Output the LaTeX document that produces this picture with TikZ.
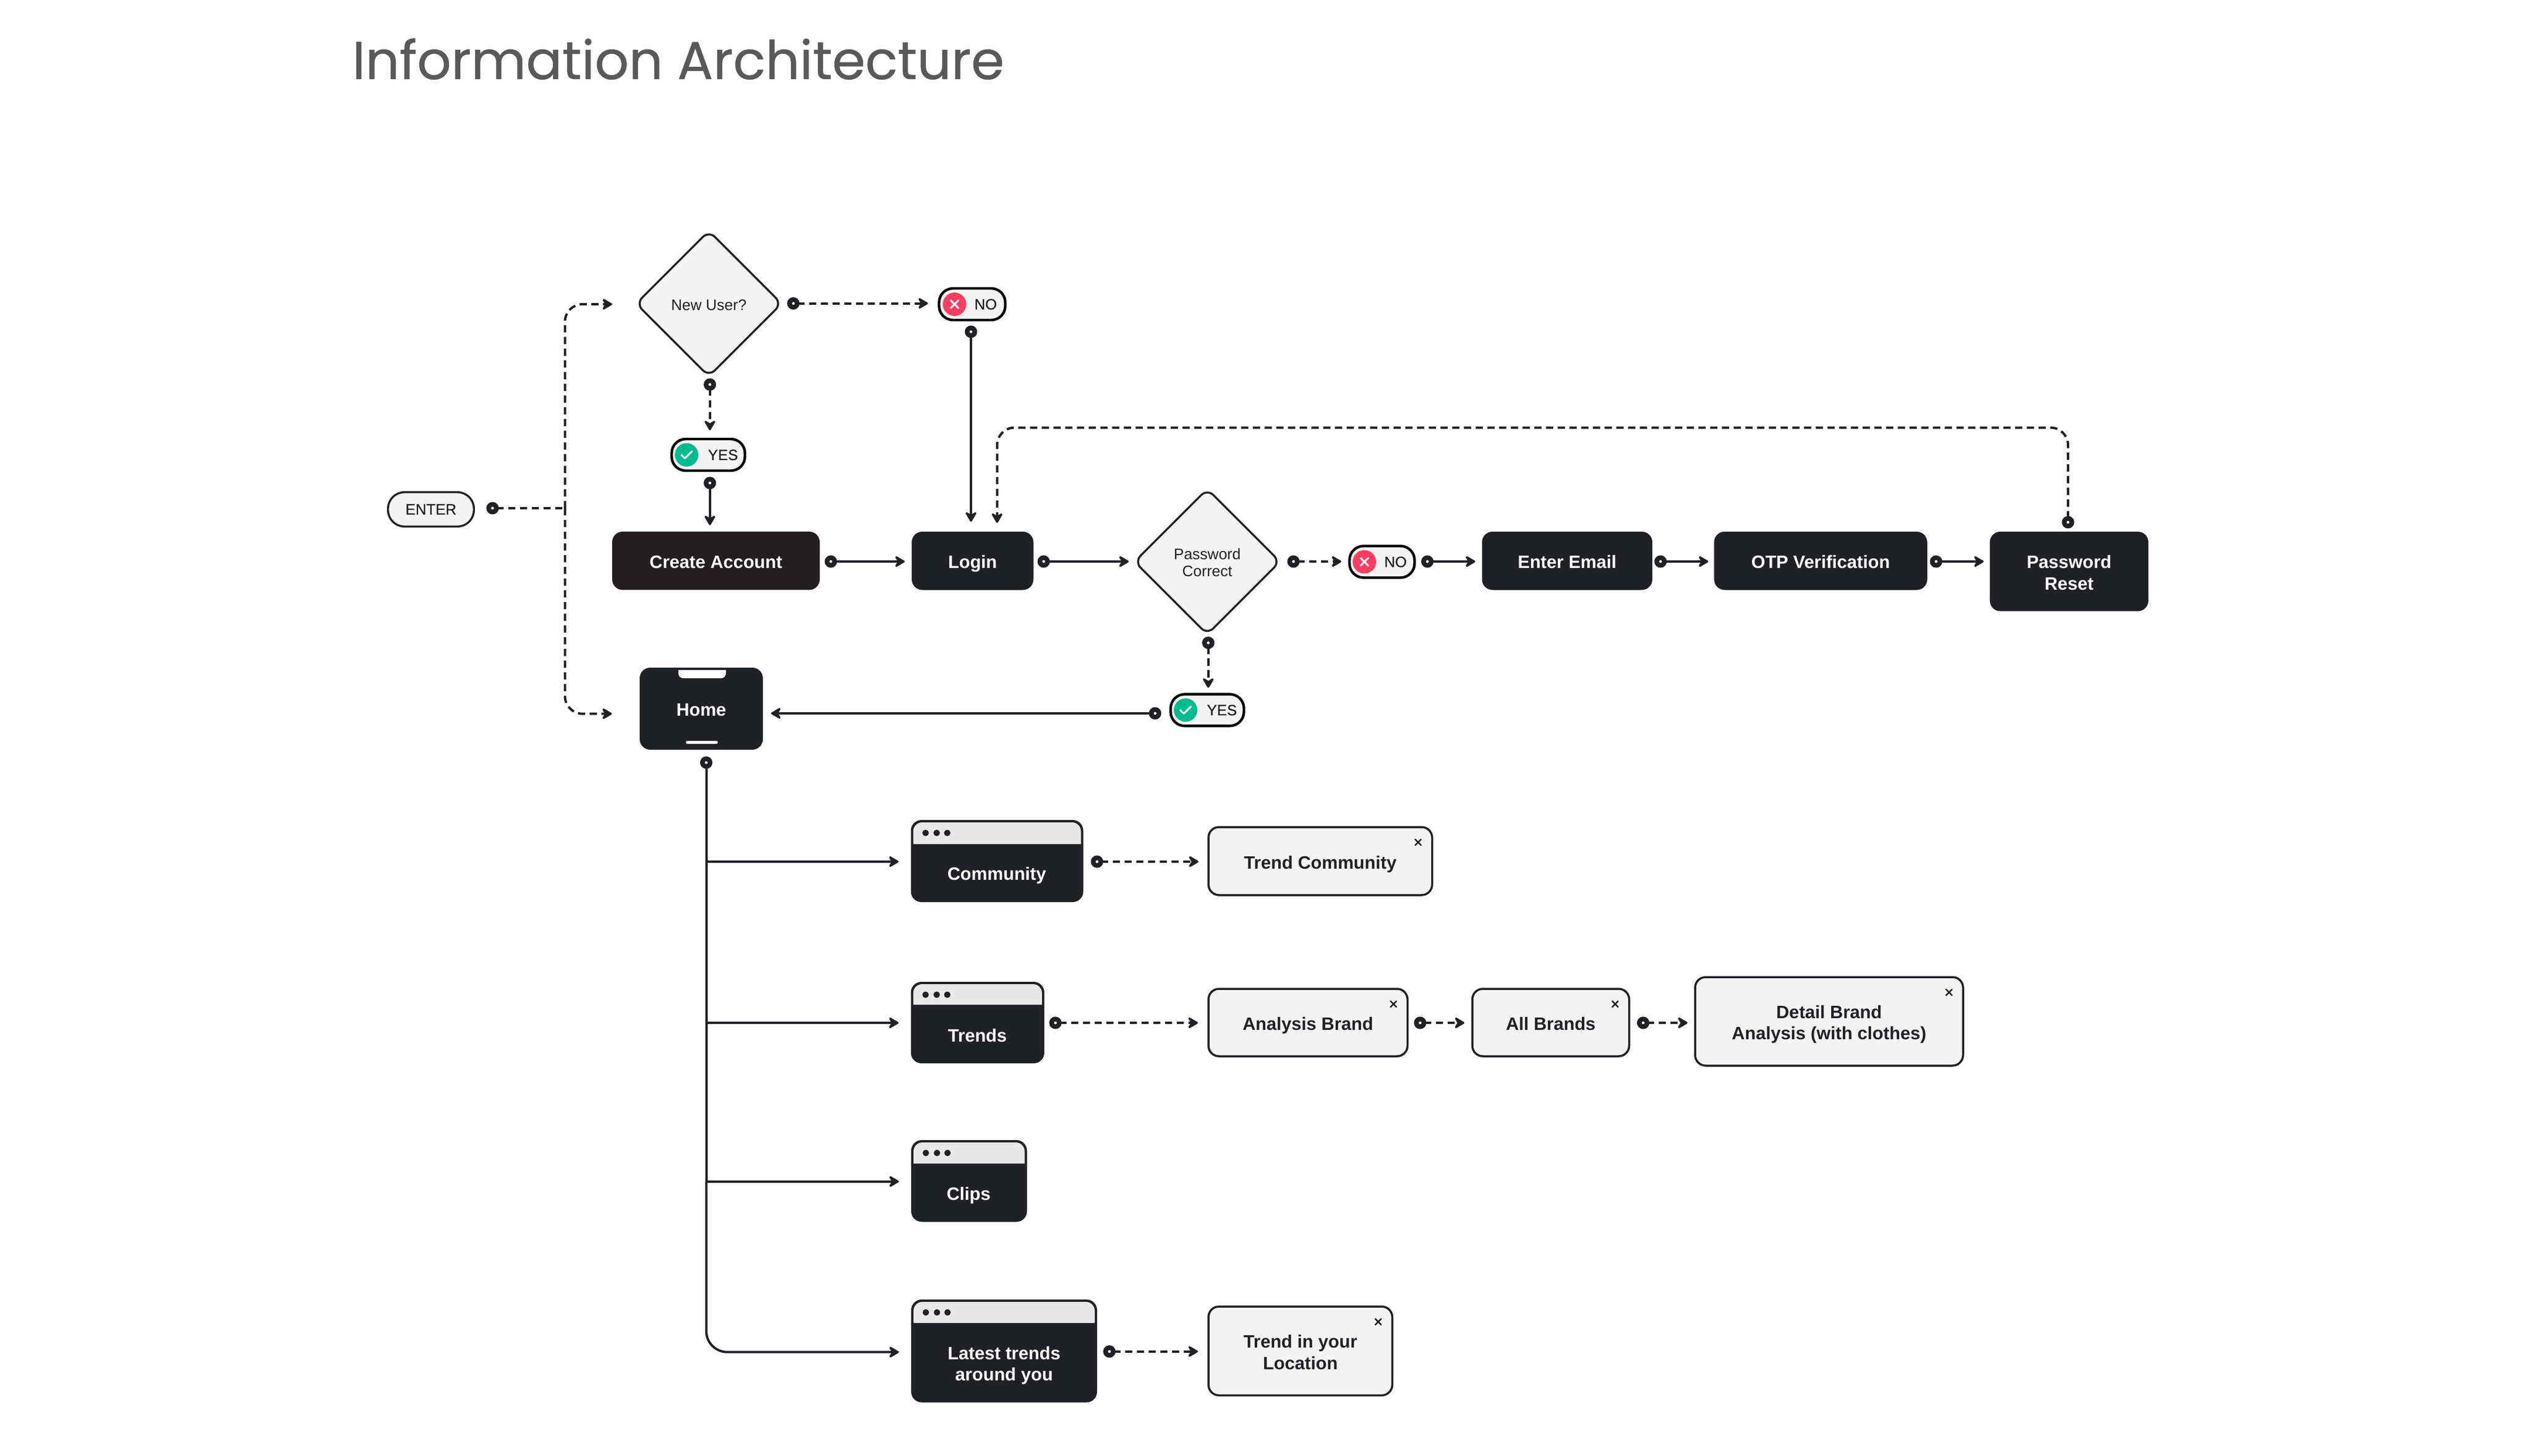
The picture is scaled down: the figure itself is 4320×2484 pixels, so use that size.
\documentclass[tikz,border=0pt]{standalone}
\usepackage{fontspec}
\setmainfont{Liberation Sans}
\newfontfamily\titlefont{Poppins}[FakeBold=0.5]
\newfontfamily\medfont{Liberation Sans}[FakeBold=0.35]
\usetikzlibrary{arrows.meta,shapes.geometric}
\definecolor{ink}{HTML}{202125}
\definecolor{inkb}{HTML}{231F20}
\definecolor{paper}{HTML}{F3F3F3}
\definecolor{hdr}{HTML}{E8E8E8}
\definecolor{titlegray}{HTML}{595959}
\definecolor{redmark}{HTML}{FF3D63}
\definecolor{greenmark}{HTML}{00BC8C}
\tikzset{
  x=0.25pt,y=-0.25pt,
  sz/.style 2 args={minimum width=(#1)*0.25pt,minimum height=(#2)*0.25pt},
  darkbox/.style={fill=ink,inner sep=0pt,outer sep=0pt,rounded corners=4.5pt},
  lightbox/.style={fill=paper,draw=ink,line width=.88pt,inner sep=0pt,outer sep=0pt,rounded corners=4.5pt},
  winlabel/.style={inner sep=0pt,text=white,align=center,text depth=0pt,font=\bfseries\fontsize{7.65}{9.1}\selectfont},
  inklabel/.style={winlabel,text=ink},
  pillbox/.style={fill=paper,draw=black,line width=1.1pt,inner sep=0pt,outer sep=0pt,rounded corners=6pt},
  enterbox/.style={fill=paper,draw=ink,line width=.85pt,inner sep=0pt,outer sep=0pt,rounded corners=7pt,text=ink,text depth=0pt,
    font=\medfont\fontsize{6.4}{7.5}\selectfont},
  pilltext/.style={inner sep=0pt,text=ink,text depth=0pt,font=\medfont\fontsize{6.4}{7.5}\selectfont},
  decision/.style={diamond,aspect=1,fill=paper,draw=ink,line width=.85pt,inner sep=0pt,outer sep=0pt,rounded corners=3.6pt,
    minimum width=62pt,minimum height=62pt},
  decisiontext/.style={inner sep=0pt,text=ink,align=center,text depth=0pt,font=\fontsize{6.5}{7.4}\selectfont},
  icon/.style={circle,inner sep=0pt,outer sep=0pt,minimum size=10pt},
  dotm/.style={circle,draw=ink,fill=white,line width=2pt,inner sep=0pt,outer sep=0pt,minimum size=3.25pt},
  solidln/.style={draw=ink,line width=1pt,-{Stealth[length=5.2pt,width=6pt,inset=1.8pt,round]}},
  dashln/.style={solidln,dash pattern=on 3.1pt off 1.9pt},
  plainln/.style={draw=ink,line width=1pt},
  gap/.style={shorten >=#1*0.25pt},
  markw/.style={draw=white,line width=.75pt,line cap=round,line join=round},
  closex/.style={draw=ink,line width=.62pt,line cap=round},
}
\newcommand{\dbox}[6]{\node[darkbox,sz={#4-#2}{#5-#3}] (#1) at ({(#2+#4)/2},{(#3+#5)/2}) {};
  \node[winlabel] (#1t) at ({(#2+#4)/2},{(#3+#5)/2+2}) {#6};}
\newcommand{\lbox}[6]{\node[lightbox,sz={#4-#2-4}{#5-#3-4}] (#1) at ({(#2+#4)/2},{(#3+#5)/2}) {};
  \node[inklabel] (#1t) at ({(#2+#4)/2},{(#3+#5)/2+2}) {#6};
  \draw[closex] (#4-26-5,#3+28-5) -- (#4-26+5,#3+28+5) (#4-26-5,#3+28+5) -- (#4-26+5,#3+28-5);}
\newcommand{\wbox}[6]{\node[darkbox,sz={#4-#2}{#5-#3}] (#1) at ({(#2+#4)/2},{(#3+#5)/2}) {};
  \fill[hdr] (#2+4,#6) {[rounded corners=3.8pt] -- (#2+4,#3+4) -- (#4-4,#3+4)} -- (#4-4,#6) -- cycle;
  \fill[ink] (#2+25,#3+22) circle[radius=5.5] (#2+44,#3+22) circle[radius=5.5] (#2+62,#3+22) circle[radius=5.5];}
\newcommand{\nopill}[4]{\node[pillbox,sz={#4}{54}] (#1) at (#2,#3) {};
  \node[icon,fill=redmark] (#1i) at (#2-30,#3) {};
  \draw[markw] (#2-36.5,#3-6.5) -- (#2-23.5,#3+6.5) (#2-36.5,#3+6.5) -- (#2-23.5,#3-6.5);
  \node[pilltext] (#1t) at (#2+23,#3) {NO};}
\newcommand{\yespill}[4]{\node[pillbox,sz={#4}{54}] (#1) at (#2,#3) {};
  \node[icon,fill=greenmark] (#1i) at (#2-37,#3) {};
  \draw[markw] (#2-46,#3+0) -- (#2-40,#3+6) -- (#2-28,#3-6);
  \node[pilltext] (#1t) at (#2+25,#3) {YES};}
\begin{document}
\begin{tikzpicture}
\useasboundingbox (0,0) rectangle (4320,2484);
\fill[white] (0,0) rectangle (4320,2484);
% title
\node[inner sep=0pt,anchor=base west,text=titlegray,font=\titlefont\fontsize{22.75}{27}\selectfont] (title) at (600,135) {Information Architecture};
% shapes
\node[enterbox,sz={146.5}{58.5}] (enter) at (735,869) {ENTER};
\node[decision] (newuser) at (1209,518) {};
\node[decisiontext] (newusert) at (1209,520) {New User?};
\nopill{noa}{1658}{519}{113}
\yespill{yesa}{1208}{776}{125}
\node[darkbox,fill=inkb,sz={354}{99.5}] (create) at (1221,956.7) {};
\node[winlabel] (createt) at (1221,958.7) {Create Account};
\dbox{login}{1555}{907}{1762.5}{1006.5}{Login}
\node[decision] (pwd) at (2059,958.3) {};
\node[decisiontext] (pwdt) at (2059,959.5) {Password\\Correct};
\nopill{nob}{2357}{958.5}{111}
\yespill{yesb}{2059}{1211.4}{125}
\dbox{email}{2527.5}{907}{2818}{1006.5}{Enter Email}
\dbox{otp}{2923.4}{907}{3286.8}{1006.5}{OTP Verification}
\dbox{reset}{3393.6}{907}{3664}{1042.7}{Password\\Reset}
% home
\dbox{home}{1091}{1139}{1301}{1279}{Home}
\fill[white] (1157,1143) {[rounded corners=2pt] -- (1157,1157) -- (1238,1157)} -- (1238,1143) -- cycle;
\fill[white,rounded corners=.5pt] (1170,1264) rectangle (1224,1269);
% windows
\wbox{community}{1553.5}{1399}{1847.5}{1539}{1440}
\node[winlabel] (communityt) at (1700,1490) {Community};
\wbox{trends}{1553.5}{1675}{1781}{1814}{1714}
\node[winlabel] (trendst) at (1667,1766) {Trends};
\wbox{clips}{1554}{1945}{1751.5}{2084.5}{1985}
\node[winlabel] (clipst) at (1652,2036) {Clips};
\wbox{latest}{1554}{2217}{1871}{2392.5}{2257}
\node[winlabel] (latestt) at (1712.5,2326.5) {Latest trends\\around you};
% light boxes
\lbox{tcomm}{2059}{1409}{2444.5}{1529}{Trend Community}
\lbox{analysis}{2059}{1685}{2402.5}{1804}{Analysis Brand}
\lbox{allb}{2509}{1685}{2780.5}{1804}{All Brands}
\lbox{detail}{2889}{1665}{3350}{1820}{Detail Brand\\Analysis (with clothes)}
\lbox{tloc}{2059}{2227}{2376.5}{2382.5}{Trend in your\\Location}
% dots
\node[dotm] (denter) at (840,867) {};
\node[dotm] (dnew) at (1353,517.6) {};
\node[dotm] (dnewb) at (1210.7,656) {};
\node[dotm] (dyesa) at (1210.7,824) {};
\node[dotm] (dnoa) at (1656,566) {};
\node[dotm] (dcreate) at (1417,958) {};
\node[dotm] (dlogin) at (1780,958) {};
\node[dotm] (dpwd) at (2206,958) {};
\node[dotm] (dpwdb) at (2060.7,1096.7) {};
\node[dotm] (dnob) at (2434.4,958) {};
\node[dotm] (demail) at (2832,958) {};
\node[dotm] (dotp) at (3302,958) {};
\node[dotm] (dreset) at (3527,891) {};
\node[dotm] (dyesb) at (1970,1217) {};
\node[dotm] (dhome) at (1204.5,1301) {};
\node[dotm] (dcomm) at (1871,1470) {};
\node[dotm] (dtrends) at (1800,1745) {};
\node[dotm] (dana) at (2422,1745) {};
\node[dotm] (dall) at (2802.4,1745) {};
\node[dotm] (dlatest) at (1892,2305.7) {};
% junctions and free ends
\coordinate (jenter) at (963.5,867);
\coordinate (newin) at (1044,519);
\coordinate (homein) at (1043.6,1217.7);
\coordinate (topr) at (3527,729.5);
\coordinate (topl) at (1700.5,729.5);
\coordinate (logintip) at (1700.5,892);
\coordinate (jcomm) at (1204.5,1470);
\coordinate (jtrends) at (1204.5,1745);
\coordinate (jclips) at (1204.5,2015.7);
\coordinate (jlatest) at (1204.5,2306.7);
% connectors
\draw[plainln,dash pattern=on 3.1pt off 1.9pt] (denter) -- (jenter);
\draw[dashln,rounded corners=7.5pt] (jenter) |- (newin);
\draw[dashln,rounded corners=7.5pt] (jenter) |- (homein);
\draw[dashln,gap=19] (dnew) -- (dnew -| noa.west);
\draw[dashln,gap=15] (dnewb) -- (dnewb |- yesa.north);
\draw[solidln,gap=11] (dyesa) -- (dyesa |- create.north);
\draw[solidln,gap=17] (dnoa) -- (dnoa |- login.north);
\draw[solidln,gap=12] (dcreate) -- (dcreate -| login.west);
\draw[solidln,gap=10] (dlogin) -- (dlogin -| pwd.west);
\draw[dashln,gap=14] (dpwd) -- (dpwd -| nob.west);
\draw[dashln,gap=11] (dpwdb) -- (dpwdb |- yesb.north);
\draw[solidln,gap=11.5] (dnob) -- (dnob -| email.west);
\draw[solidln,gap=10] (demail) -- (demail -| otp.west);
\draw[solidln,gap=10.5] (dotp) -- (dotp -| reset.west);
\draw[dashln,rounded corners=7.5pt] (dreset) -- (topr) -- (topl) -- (logintip);
\draw[solidln,gap=14] (dyesb) -- (dyesb -| home.east);
\draw[plainln] (dhome) -- (jclips);
\draw[solidln,rounded corners=9pt,gap=21] (jclips) -- (jlatest) -- (jlatest -| latest.west);
\draw[solidln,gap=21] (jcomm) -- (jcomm -| community.west);
\draw[solidln,gap=21] (jtrends) -- (jtrends -| trends.west);
\draw[solidln,gap=21] (jclips) -- (jclips -| clips.west);
\draw[dashln,gap=17] (dcomm) -- (dcomm -| tcomm.west);
\draw[dashln,gap=18] (dtrends) -- (dtrends -| analysis.west);
\draw[dashln,gap=13.5] (dana) -- (dana -| allb.west);
\draw[dashln,gap=13] (dall) -- (dall -| detail.west);
\draw[dashln,gap=18] (dlatest) -- (dlatest -| tloc.west);
\end{tikzpicture}
\end{document}
